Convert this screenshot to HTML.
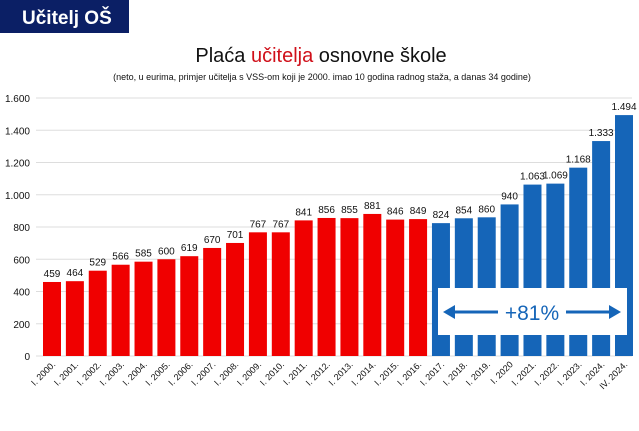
<!DOCTYPE html>
<html><head><meta charset="utf-8"><style>
body{margin:0;background:#fff;width:639px;height:426px;overflow:hidden;font-family:"Liberation Sans",sans-serif}
</style></head><body>
<svg width="639" height="426" xmlns="http://www.w3.org/2000/svg" font-family="Liberation Sans, sans-serif">
<rect x="0" y="0" width="129" height="33" fill="#0b1f65"/>
<text x="22" y="24" fill="#fff" font-size="19" font-weight="bold">Učitelj OŠ</text>
<text x="321" y="62" font-size="20" text-anchor="middle" fill="#111">Plaća <tspan fill="#d0101a">učitelja</tspan> osnovne škole</text>
<text x="322" y="80" font-size="9" text-anchor="middle" fill="#111">(neto, u eurima, primjer učitelja s VSS-om koji je 2000. imao 10 godina radnog staža, a danas 34 godine)</text>
<g id="grid" stroke="#ddd" stroke-width="1"></g>
<g id="bars"></g>
<rect x="438" y="288" width="189" height="47" fill="#fff"/>
<line x1="452" y1="312" x2="498" y2="312" stroke="#1565b8" stroke-width="3"/>
<polygon points="443,312 455,305 455,319" fill="#1565b8"/>
<line x1="566" y1="312" x2="612" y2="312" stroke="#1565b8" stroke-width="3"/>
<polygon points="621,312 609,305 609,319" fill="#1565b8"/>
<text x="532" y="320" font-size="21" text-anchor="middle" fill="#1565b8">+81%</text>
</svg>
<script>
const v=[459,464,529,566,585,600,619,670,701,767,767,841,856,855,881,846,849,824,854,860,940,1063,1069,1168,1333,1494];
const lab=["I. 2000.","I. 2001.","I. 2002.","I. 2003.","I. 2004.","I. 2005.","I. 2006.","I. 2007.","I. 2008.","I. 2009.","I. 2010.","I. 2011.","I. 2012.","I. 2013.","I. 2014.","I. 2015.","I. 2016.","I. 2017.","I. 2018.","I. 2019.","I. 2020","I. 2021.","I. 2022.","I. 2023.","I. 2024.","IV. 2024."];
const ns="http://www.w3.org/2000/svg";
const g=document.getElementById('grid'),b=document.getElementById('bars');
function el(t,a,p,txt){const e=document.createElementNS(ns,t);for(const k in a)e.setAttribute(k,a[k]);if(txt)e.textContent=txt;p.appendChild(e);return e;}
const y0=356,k=32.25/200;
for(let i=0;i<=8;i++){const y=y0-i*200*k;el('line',{x1:36,x2:632,y1:y,y2:y},g);
el('text',{x:30,y:y+4,'font-size':10,'text-anchor':'end',fill:'#111'},b,i==0?'0':(i*200).toLocaleString('de-DE'));}
const n=v.length,x0=52,x1=624,p=(x1-x0)/(n-1);
v.forEach((d,i)=>{const c=x0+i*p,h=d*k;
el('rect',{x:c-9,y:y0-h,width:18,height:h,fill:i<17?'#f00000':'#1565b8'},b);
el('text',{x:c,y:y0-h-5,'font-size':10,'text-anchor':'middle',fill:'#111'},b,d.toLocaleString('de-DE'));
el('text',{x:c+4,y:y0+9,'font-size':9,'text-anchor':'end',fill:'#111',transform:`rotate(-45 ${c+4} ${y0+9})`},b,lab[i]);});
</script>
</body></html>
